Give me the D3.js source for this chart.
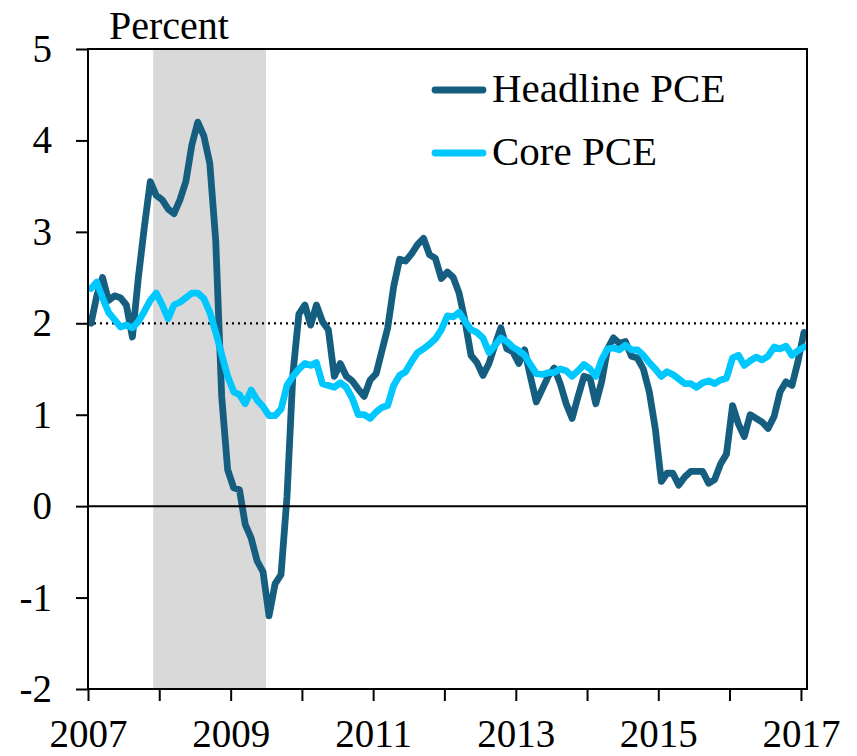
<!DOCTYPE html>
<html>
<head>
<meta charset="utf-8">
<script src="https://cdn.jsdelivr.net/npm/d3@7"></script>
<style>
  body { margin: 0; background: #fff; }
  svg text { font-family: "Liberation Serif", "Times New Roman", serif; fill: #000; }
</style>
</head>
<body>
<div id="chart"></div>
<script>
// monthly, Jan 2007 .. Jan 2017, 12-month percent change
const headline = [
  2.0, 2.3, 2.5, 2.25, 2.3, 2.28, 2.2, 1.85, 2.5, 3.05, 3.55, 3.4,          // 2007
  3.35, 3.25, 3.2, 3.35, 3.55, 3.95, 4.2, 4.05, 3.75, 2.9, 1.2, 0.4,        // 2008
  0.2, 0.18, -0.2, -0.35, -0.6, -0.72, -1.2, -0.85, -0.75, 0.1, 1.45, 2.1,  // 2009
  2.2, 1.98, 2.2, 2.02, 1.93, 1.42, 1.56, 1.42, 1.37, 1.28, 1.2, 1.38,      // 2010
  1.45, 1.7, 1.95, 2.4, 2.7, 2.68, 2.76, 2.86, 2.93, 2.75, 2.71, 2.49,      // 2011
  2.56, 2.5, 2.33, 2.02, 1.65, 1.57, 1.43, 1.56, 1.76, 1.95, 1.72, 1.69,    // 2012
  1.56, 1.71, 1.42, 1.14, 1.28, 1.42, 1.51, 1.34, 1.12, 0.96, 1.2, 1.42,    // 2013
  1.4, 1.12, 1.36, 1.72, 1.84, 1.78, 1.8, 1.64, 1.62, 1.5, 1.25, 0.85,      // 2014
  0.27, 0.36, 0.36, 0.23, 0.32, 0.38, 0.38, 0.38, 0.25, 0.29, 0.46, 0.57,   // 2015
  1.1, 0.9, 0.76, 1.0, 0.96, 0.92, 0.85, 0.98, 1.25, 1.36, 1.32, 1.58,      // 2016
  1.9                                                                      // 2017
];

const core = [
  2.38, 2.45, 2.28, 2.12, 2.04, 1.96, 1.98, 1.95, 2.02, 2.13, 2.25, 2.33,   // 2007
  2.2, 2.05, 2.2, 2.23, 2.28, 2.33, 2.33, 2.27, 2.12, 1.9, 1.66, 1.42,      // 2008
  1.25, 1.22, 1.12, 1.27, 1.16, 1.09, 0.99, 0.99, 1.06, 1.32, 1.42, 1.5,    // 2009
  1.56, 1.54, 1.57, 1.34, 1.32, 1.3, 1.35, 1.3, 1.18, 1.0, 1.0, 0.96,       // 2010
  1.03, 1.08, 1.1, 1.32, 1.43, 1.47, 1.58, 1.68, 1.72, 1.77, 1.83, 1.93,    // 2011
  2.08, 2.07, 2.12, 2.02, 1.93, 1.9, 1.84, 1.68, 1.76, 1.84, 1.8, 1.74,     // 2012
  1.7, 1.65, 1.55, 1.45, 1.44, 1.46, 1.46, 1.5, 1.48, 1.42, 1.48, 1.55,     // 2013
  1.5, 1.42, 1.6, 1.72, 1.73, 1.71, 1.76, 1.71, 1.71, 1.65, 1.57, 1.5,      // 2014
  1.42, 1.47, 1.44, 1.39, 1.34, 1.34, 1.3, 1.35, 1.37, 1.34, 1.38, 1.4,     // 2015
  1.62, 1.65, 1.54, 1.59, 1.63, 1.6, 1.64, 1.74, 1.72, 1.75, 1.65, 1.7,     // 2016
  1.74                                                                     // 2017
];

const seriesNames = ["Headline PCE", "Core PCE"];
const yTicks = [-2, -1, 0, 1, 2, 3, 4, 5];
const xTickYears = [2007, 2008, 2009, 2010, 2011, 2012, 2013, 2014, 2015, 2016, 2017];
const xLabelYears = [2007, 2009, 2011, 2013, 2015, 2017];
const recession = [new Date(2007, 11, 1), new Date(2009, 6, 1)];
const target = 2;

const W = 857, H = 756;
const margin = { top: 49, right: 50, bottom: 67, left: 88 };
const start = new Date(2007, 0, 1);

// points sit in the middle of their month
const midMonth = i => {
  const a = d3.timeMonth.offset(start, i), b = d3.timeMonth.offset(start, i + 1);
  return new Date((+a + +b) / 2);
};

const svg = d3.select("#chart").append("svg")
  .attr("width", W)
  .attr("height", H);

const x = d3.scaleTime()
  .domain([start, new Date(2017, 1, 1)])
  .range([margin.left, W - margin.right]);

const y = d3.scaleLinear()
  .domain([-2, 5])
  .range([H - margin.bottom, margin.top]);

const fontSize = 39;

// recession shading
svg.append("rect")
  .attr("x", x(recession[0]))
  .attr("y", y(5))
  .attr("width", x(recession[1]) - x(recession[0]))
  .attr("height", y(-2) - y(5))
  .attr("fill", "#d9d9d9");

// 2 percent dotted line
svg.append("line")
  .attr("x1", x.range()[0]).attr("x2", x.range()[1])
  .attr("y1", y(target)).attr("y2", y(target))
  .attr("stroke", "#000")
  .attr("stroke-width", 2.2)
  .attr("stroke-dasharray", "2,4");

const line = d3.line()
  .x((d, i) => x(midMonth(i)))
  .y(d => y(d));

const colors = ["#155e80", "#00c8ff"];

[headline, core].forEach((s, k) => {
  svg.append("path")
    .datum(s)
    .attr("fill", "none")
    .attr("stroke", colors[k])
    .attr("stroke-width", 6.8)
    .attr("stroke-linejoin", "round")
    .attr("stroke-linecap", "round")
    .attr("d", line);
});

// zero line
svg.append("line")
  .attr("x1", x.range()[0]).attr("x2", x.range()[1])
  .attr("y1", y(0)).attr("y2", y(0))
  .attr("stroke", "#000")
  .attr("stroke-width", 2);

// frame
svg.append("rect")
  .attr("x", x.range()[0])
  .attr("y", y(5))
  .attr("width", x.range()[1] - x.range()[0])
  .attr("height", y(-2) - y(5))
  .attr("fill", "none")
  .attr("stroke", "#000")
  .attr("stroke-width", 2);

const yAxis = svg.append("g")
  .attr("transform", `translate(${margin.left},0)`)
  .call(d3.axisLeft(y).tickValues(yTicks).tickSize(12).tickPadding(24).tickFormat(d => String(d)));

const xAxis = svg.append("g")
  .attr("transform", `translate(0,${H - margin.bottom})`)
  .call(d3.axisBottom(x)
    .tickValues(xTickYears.map(v => new Date(v, 0, 1)))
    .tickSize(12)
    .tickPadding(18)
    .tickFormat(d => xLabelYears.includes(d.getFullYear()) ? d.getFullYear() : ""));

[yAxis, xAxis].forEach(g => {
  g.select(".domain").remove();
  g.selectAll(".tick line").attr("stroke", "#000").attr("stroke-width", 2);
  g.selectAll(".tick text")
    .attr("font-family", '"Liberation Serif", serif')
    .style("font-size", fontSize + "px")
    .attr("fill", "#000");
});

svg.append("text")
  .attr("x", 109)
  .attr("y", 39)
  .style("font-size", "40px")
  .text("Percent");

// legend
const legend = svg.append("g").attr("transform", "translate(435,90)");
seriesNames.forEach((name, i) => {
  legend.append("line")
    .attr("x1", 0).attr("x2", 48)
    .attr("y1", i * 63).attr("y2", i * 63)
    .attr("stroke", colors[i])
    .attr("stroke-width", 6.8)
    .attr("stroke-linecap", "round");
  legend.append("text")
    .attr("x", 57)
    .attr("y", i * 63 + 12)
    .style("font-size", "41px")
    .text(name);
});
</script>
</body>
</html>
